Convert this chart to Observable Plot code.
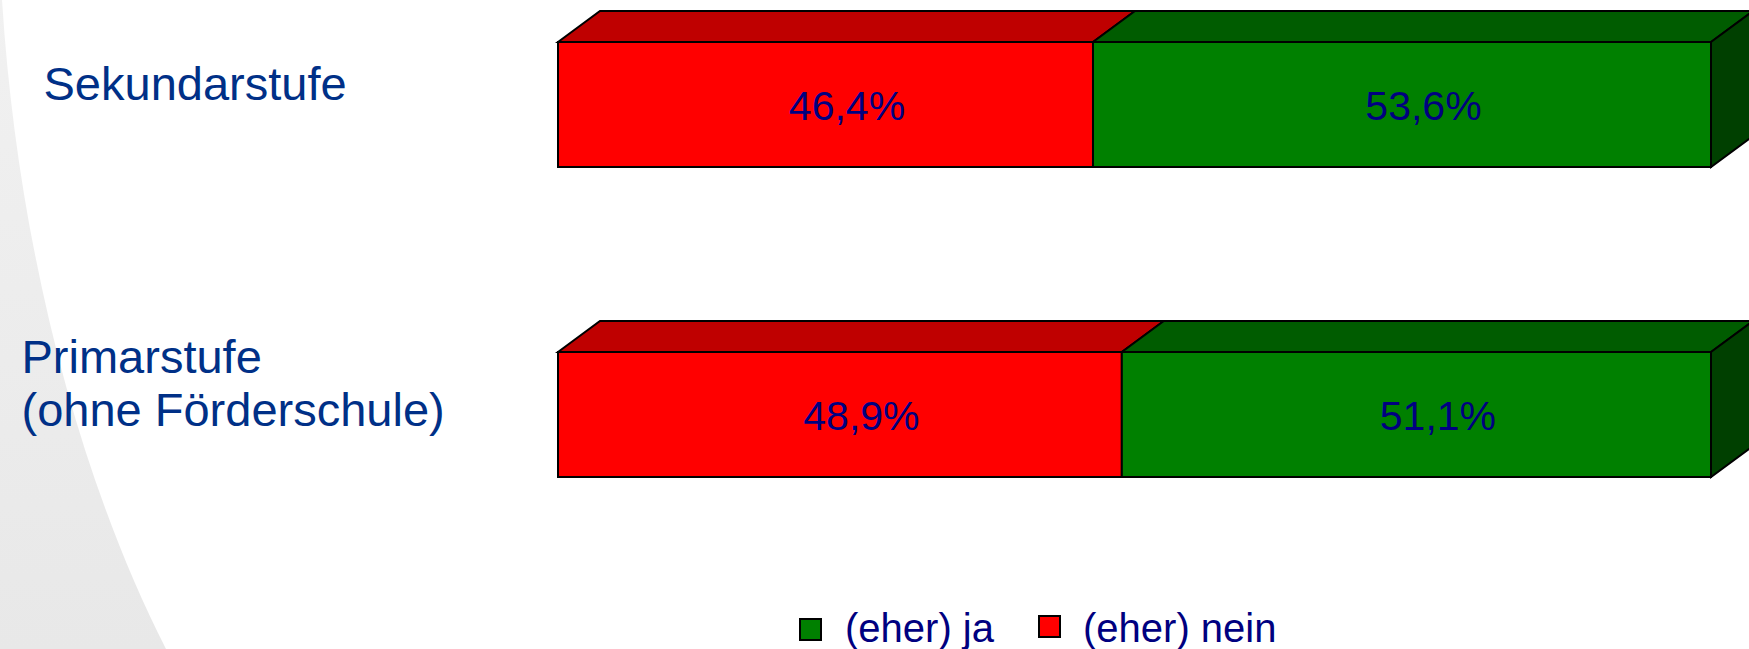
<!DOCTYPE html>
<html>
<head>
<meta charset="utf-8">
<script src="https://cdn.jsdelivr.net/npm/d3@7"></script>
<script src="https://cdn.jsdelivr.net/npm/@observablehq/plot@0.6"></script>
<style>
  html, body { margin: 0; padding: 0; background: #fff; }
  #wrap { position: relative; width: 1749px; height: 649px; overflow: hidden;
          font-family: "Liberation Sans", Arial, sans-serif; }
  #bg { position: absolute; left: 0; top: 0; }
  #chart { position: absolute; left: 0; top: 0; }
  #legend { position: absolute; left: 0; top: 608px; width: 1749px; height: 41px; }
  .lg-text { position: absolute; top: 0; font-size: 40px; line-height: 40px; color: #000080; white-space: nowrap; }
  .lg-sw { position: absolute; width: 23px; height: 23px; box-sizing: border-box; border: 2px solid #000; }
</style>
</head>
<body>
<div id="wrap">
  <svg id="bg" width="1749" height="649">
    <defs>
      <linearGradient id="sw" x1="0" y1="0" x2="0" y2="1">
        <stop offset="0" stop-color="#f1f1f1"/>
        <stop offset="1" stop-color="#e8e8e8"/>
      </linearGradient>
    </defs>
    <path d="M0,0 L2,0 C18,250 80,480 166,649 L0,649 Z" fill="url(#sw)"/>
  </svg>
  <div id="chart"></div>
  <div id="legend"></div>
</div>
<script>
// ---- data ----
const categories = ["Sekundarstufe", "Primarstufe\n(ohne Förderschule)"];
const answers = ["(eher) nein", "(eher) ja"];
const neinValues = [46.4, 48.9];
const jaValues = [53.6, 51.1];
const legendOrder = ["(eher) ja", "(eher) nein"];

// ---- styles ----
const frontColors = ["#ff0000", "#008000"];
const topColors = {"(eher) nein": "#bf0000", "(eher) ja": "#005c00"};
const sideColors = {"(eher) nein": "#800000", "(eher) ja": "#004000"};
const DX = 42, DY = 31; // 3D depth in pixels

const rows = [];
categories.forEach((c, i) => {
  rows.push({category: c, answer: "(eher) nein", value: neinValues[i]});
  rows.push({category: c, answer: "(eher) ja", value: jaValues[i]});
});

const fmt = v => v.toFixed(1).replace(".", ",") + "%";

function depthFaces(index, scales) {
  const x = scales.x, y = scales.y;
  const bw = y.bandwidth();
  const g = d3.create("svg:g")
    .attr("stroke", "#000")
    .attr("stroke-width", 2)
    .attr("stroke-linejoin", "miter");
  categories.forEach(c => {
    const top = y(c), bottom = top + bw;
    let cum = 0, lastX2 = null, lastAns = null;
    rows.filter(r => r.category === c).forEach(r => {
      const x1 = x(cum), x2 = x(cum + r.value);
      cum += r.value;
      g.append("path")
        .attr("fill", topColors[r.answer])
        .attr("d", `M${x1},${top}L${x1 + DX},${top - DY}L${x2 + DX},${top - DY}L${x2},${top}Z`);
      lastX2 = x2; lastAns = r.answer;
    });
    g.append("path")
      .attr("fill", sideColors[lastAns])
      .attr("d", `M${lastX2},${top}L${lastX2 + DX},${top - DY}L${lastX2 + DX},${bottom - DY}L${lastX2},${bottom}Z`);
  });
  return g.node();
}

const chart = Plot.plot({
  width: 1749,
  height: 590,
  margin: 0,
  style: {background: "transparent", fontFamily: "'Liberation Sans', Arial, sans-serif"},
  x: {domain: [0, 100], range: [558, 1711], axis: null},
  y: {domain: categories, range: [42, 478], paddingInner: 0.596, paddingOuter: 0, axis: null},
  color: {domain: answers, range: frontColors},
  marks: [
    depthFaces,
    Plot.barX(rows, Plot.stackX({x: "value", y: "category", fill: "answer", stroke: "#000", strokeWidth: 2, inset: 0})),
    Plot.text(rows, Plot.stackX({x: "value", y: "category", z: "answer", text: d => fmt(d.value),
      fill: "#000080", fontSize: 41, dx: 21, dy: 2})),
    Plot.text([categories[0]], {y: d => d, text: d => d, frameAnchor: "left", textAnchor: "start",
      dx: 43, dy: -19.75, fontSize: 47, fill: "#003087"}),
    Plot.text([categories[1]], {y: d => d, text: d => d, frameAnchor: "left", textAnchor: "start",
      dx: 21, dy: -32.75, fontSize: 47, lineHeight: 1.128, fill: "#003087"})
  ]
});
document.getElementById("chart").appendChild(chart);

// ---- legend ----
const legendLayout = {
  "(eher) ja": {sw: 799, swTop: 10, text: 845},
  "(eher) nein": {sw: 1038, swTop: 7, text: 1083}
};
const legend = document.getElementById("legend");
legendOrder.forEach(a => {
  const L = legendLayout[a];
  const sw = document.createElement("div");
  sw.className = "lg-sw";
  sw.style.left = L.sw + "px";
  sw.style.top = L.swTop + "px";
  sw.style.background = frontColors[answers.indexOf(a)];
  legend.appendChild(sw);
  const t = document.createElement("div");
  t.className = "lg-text";
  t.style.left = L.text + "px";
  t.textContent = a;
  legend.appendChild(t);
});
</script>
</body>
</html>
